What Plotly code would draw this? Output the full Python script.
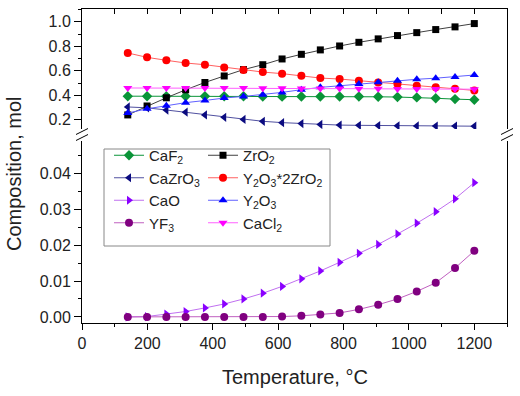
import plotly.graph_objects as go

# ---------------- data ----------------
temperature = [140, 199, 258, 317, 376, 435, 494, 553, 612, 671,
               729, 788, 847, 906, 965, 1024, 1082, 1141, 1200]

caf2 = [0.393, 0.393, 0.393, 0.393, 0.393, 0.393, 0.393, 0.390, 0.389, 0.390,
        0.390, 0.390, 0.390, 0.388, 0.386, 0.383, 0.376, 0.369, 0.364]
cazro3 = [0.305, 0.298, 0.280, 0.262, 0.240, 0.220, 0.203, 0.188, 0.177, 0.169,
          0.162, 0.157, 0.155, 0.153, 0.151, 0.150, 0.149, 0.149, 0.148]
cao = [0.0000, 0.0001, 0.0008, 0.0015, 0.0025, 0.0036, 0.0050, 0.0066, 0.0085, 0.0106,
       0.0128, 0.0152, 0.0177, 0.0202, 0.0231, 0.0261, 0.0293, 0.0329, 0.0374]
yf3 = [0.0000, 0.0000, 0.0000, 0.0000, 0.0000, 0.0000, 0.0000, 0.0000, 0.0001, 0.0003,
       0.0007, 0.0011, 0.0021, 0.0034, 0.0050, 0.0071, 0.0095, 0.0136, 0.0184]
zro2 = [0.240, 0.313, 0.380, 0.445, 0.505, 0.558, 0.610, 0.650, 0.697, 0.735,
        0.771, 0.803, 0.833, 0.861, 0.888, 0.912, 0.937, 0.959, 0.986]
y2o3_2zro2 = [0.746, 0.710, 0.686, 0.664, 0.650, 0.628, 0.607, 0.590, 0.577, 0.560,
              0.541, 0.533, 0.519, 0.505, 0.492, 0.478, 0.465, 0.454, 0.440]
y2o3 = [0.255, 0.290, 0.315, 0.340, 0.358, 0.378, 0.391, 0.405, 0.424, 0.446,
        0.465, 0.478, 0.492, 0.507, 0.519, 0.531, 0.540, 0.550, 0.566]
cacl2 = [0.460, 0.460, 0.460, 0.460, 0.460, 0.460, 0.459, 0.458, 0.457, 0.456,
         0.455, 0.455, 0.454, 0.453, 0.452, 0.452, 0.451, 0.451, 0.450]

upper_ticks = [0.2, 0.4, 0.6, 0.8, 1.0]
lower_ticks = [0.00, 0.01, 0.02, 0.03, 0.04]
x_ticks = [0, 200, 400, 600, 800, 1000, 1200]

# ---------------- layout geometry (pixels) ----------------
W, H = 520, 396
ML, MR, MT, MB = 82, 13, 9, 73
PW, PH = W - ML - MR, H - MT - MB


def px(x):
    return (x - ML) / PW


def py(y):
    return (H - MB - y) / PH


FONT = "Liberation Sans, Arial, sans-serif"

fig = go.Figure()

lower = [
    ("CaO", cao, "#8a00ff", "#c070f0", "triangle-right", "legend"),
    ("YF<sub>3</sub>", yf3, "#800080", "#c060c0", "circle", "legend"),
]
upper = [
    ("CaF<sub>2</sub>", caf2, "#0a9438", "#0a9438", "diamond", "legend"),
    ("CaZrO<sub>3</sub>", cazro3, "#0b0b80", "#5050a0", "triangle-left", "legend"),
    ("ZrO<sub>2</sub>", zro2, "#000000", "#404040", "square", "legend2"),
    ("Y<sub>2</sub>O<sub>3</sub>*2ZrO<sub>2</sub>", y2o3_2zro2, "#ff0000", "#ff6060", "circle", "legend2"),
    ("Y<sub>2</sub>O<sub>3</sub>", y2o3, "#0000ff", "#6060ff", "triangle-up", "legend2"),
    ("CaCl<sub>2</sub>", cacl2, "#ff00ff", "#ff60ff", "triangle-down", "legend2"),
]

order1 = {"CaF<sub>2</sub>": 1, "CaZrO<sub>3</sub>": 2, "CaO": 3, "YF<sub>3</sub>": 4}
order2 = {"ZrO<sub>2</sub>": 1, "Y<sub>2</sub>O<sub>3</sub>*2ZrO<sub>2</sub>": 2,
          "Y<sub>2</sub>O<sub>3</sub>": 3, "CaCl<sub>2</sub>": 4}

for name, vals, mc, lc, sym, lg in upper:
    fig.add_trace(go.Scatter(
        x=temperature, y=vals, name=name, mode="lines+markers",
        xaxis="x2", yaxis="y2", legend=lg,
        legendrank=order1.get(name, order2.get(name)),
        line=dict(color=lc, width=1),
        marker=dict(symbol=sym, color=mc, size=8 if sym != "square" else 7,
                    line=dict(width=0))))

for name, vals, mc, lc, sym, lg in lower:
    fig.add_trace(go.Scatter(
        x=temperature, y=vals, name=name, mode="lines+markers",
        xaxis="x", yaxis="y", legend=lg,
        legendrank=order1.get(name),
        line=dict(color=lc, width=1),
        marker=dict(symbol=sym, color=mc, size=8, line=dict(width=0))))

low_dom = [0, py(141)]
up_dom = [py(129), 1]
low_rng = [-0.0017, 0.049]
up_rng = [0.125, 1.105]
x_rng = [0, 1300]

axis_common = dict(showgrid=False, zeroline=False, linecolor="black", linewidth=1,
                   automargin=False, tickcolor="black",
                   tickfont=dict(family=FONT, size=16, color="#222"))

fig.update_layout(
    template="none",
    width=W, height=H,
    margin=dict(l=ML, r=MR, t=MT, b=MB, autoexpand=False),
    paper_bgcolor="white", plot_bgcolor="white",
    font=dict(family=FONT, color="#222"),
    xaxis=dict(domain=[0, 1], range=x_rng, anchor="y", showline=True,
               tickvals=x_ticks, ticks="outside", ticklen=6,
               minor=dict(dtick=100, ticks="outside", ticklen=3, tickcolor="black"),
               **axis_common),
    xaxis2=dict(domain=[0, 1], range=x_rng, anchor="y2", side="top", showline=True,
                showticklabels=False, tickvals=x_ticks, ticks="inside", ticklen=5,
                minor=dict(dtick=100, ticks="inside", ticklen=5, tickcolor="black"),
                **axis_common),
    yaxis=dict(domain=low_dom, range=low_rng, anchor="x", showline=True, mirror=True,
               tickvals=lower_ticks, tickformat=".2f", ticks="outside", ticklen=7,
               minor=dict(dtick=0.005, ticks="outside", ticklen=3, tickcolor="black"),
               **axis_common),
    yaxis2=dict(domain=up_dom, range=up_rng, anchor="x2", showline=True, mirror=True,
                tickvals=upper_ticks, tickformat=".1f", ticks="outside", ticklen=7,
                minor=dict(dtick=0.1, ticks="outside", ticklen=3, tickcolor="black"),
                **axis_common),
    yaxis3=dict(domain=low_dom, range=low_rng, anchor="x", overlaying="y", side="right",
                showline=False, showticklabels=False,
                tickvals=lower_ticks, ticks="inside", ticklen=6,
                minor=dict(dtick=0.005, ticks="inside", ticklen=3, tickcolor="black"),
                **axis_common),
    yaxis4=dict(domain=up_dom, range=up_rng, anchor="x2", overlaying="y2", side="right",
                showline=False, showticklabels=False,
                tickvals=upper_ticks, ticks="inside", ticklen=6,
                minor=dict(dtick=0.1, ticks="inside", ticklen=3, tickcolor="black"),
                **axis_common),
    legend=dict(x=px(109), y=py(139), xanchor="left", yanchor="top",
                bgcolor="rgba(0,0,0,0)", borderwidth=0,
                font=dict(family=FONT, size=15, color="#222"), tracegroupgap=0),
    legend2=dict(x=px(203), y=py(139), xanchor="left", yanchor="top",
                 bgcolor="rgba(0,0,0,0)", borderwidth=0,
                 font=dict(family=FONT, size=15, color="#222"), tracegroupgap=0),
    showlegend=True,
)

# legend frame
fig.add_shape(type="rect", xref="paper", yref="paper",
              x0=px(104), x1=px(330), y0=py(246), y1=py(149),
              line=dict(color="#888", width=1), fillcolor="rgba(0,0,0,0)")

# axis break marks
for xc in (ML, ML + PW):
    for yc in (131.5, 137.5):
        fig.add_shape(type="line", xref="paper", yref="paper",
                      x0=px(xc - 6), y0=py(yc + 3), x1=px(xc + 6), y1=py(yc - 3),
                      line=dict(color="black", width=1))

# axis titles
fig.add_annotation(text="Temperature, °C", xref="paper", yref="paper",
                   x=0.5, y=py(377), xanchor="center", yanchor="middle", showarrow=False,
                   font=dict(family=FONT, size=20, color="#222"))
fig.add_annotation(text="Composition, mol", xref="paper", yref="paper",
                   x=px(14), y=py(174), xanchor="center", yanchor="middle",
                   showarrow=False, textangle=-90,
                   font=dict(family=FONT, size=20, color="#222"))

fig.write_html("out.html", config={"displayModeBar": False},
               post_script="document.body.style.margin='0';document.body.style.padding='0';")
